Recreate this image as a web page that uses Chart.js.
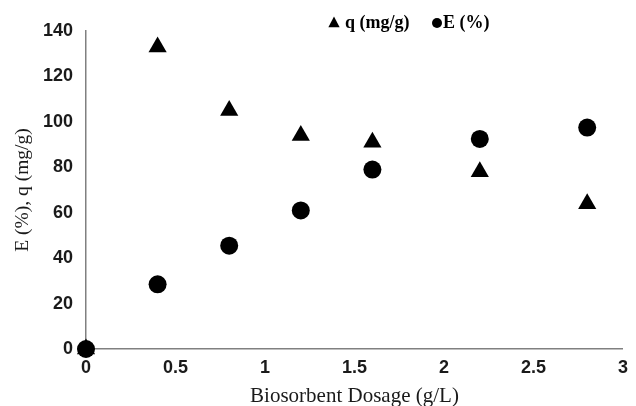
<!DOCTYPE html>
<html>
<head>
<meta charset="utf-8">
<script src="https://cdn.jsdelivr.net/npm/chart.js@4"></script>
<style>
  html, body { margin: 0; padding: 0; background: #fff; }
  #wrap { width: 636px; height: 406px; }
</style>
</head>
<body>
<div id="wrap"><canvas id="dosageChart" width="636" height="406"></canvas></div>
<script>
// Biosorbent dosage (g/L)
var dosage = [0, 0.4, 0.8, 1.2, 1.6, 2.2, 2.8];
// uptake q (mg/g)
var qValues = [0, 133, 105, 94, 91, 78, 64];
// removal efficiency E (%)
var eValues = [0, 28.5, 45.5, 61, 79, 92.5, 97.5];

var xTicks = [0, 0.5, 1, 1.5, 2, 2.5, 3];
var yTicks = [0, 20, 40, 60, 80, 100, 120, 140];

function toPoints(xs, ys) {
    var pts = [];
    for (var i = 0; i < xs.length; i++) {
        pts.push({ x: xs[i], y: ys[i] });
    }
    return pts;
}

// little legend drawn on top, same place as the original figure
var legendPlugin = {
    id: 'topLegend',
    afterDraw: function (chart) {
        var ctx = chart.ctx;
        ctx.save();
        ctx.fillStyle = '#000';
        ctx.font = 'bold 18px "Liberation Serif"';
        ctx.textBaseline = 'middle';
        // triangle
        var tx = 334, ty = 23, r = 6.5;
        ctx.beginPath();
        ctx.moveTo(tx, ty - r);
        ctx.lineTo(tx + r * 0.866, ty + r * 0.5 + 1);
        ctx.lineTo(tx - r * 0.866, ty + r * 0.5 + 1);
        ctx.closePath();
        ctx.fill();
        ctx.fillText(chart.data.datasets[0].label, 345, 23);
        // circle
        ctx.beginPath();
        ctx.arc(437, 23, 5, 0, Math.PI * 2);
        ctx.fill();
        ctx.fillText(chart.data.datasets[1].label, 443, 23);
        ctx.restore();
    }
};

var ctx = document.getElementById('dosageChart');
var config = {
    type: 'scatter',
    data: {
        datasets: [{
            label: 'q (mg/g)',
            data: toPoints(dosage, qValues),
            pointStyle: 'triangle',
            pointRadius: 10.5,
            backgroundColor: '#000',
            borderColor: '#000',
            borderWidth: 0,
            clip: false
        }, {
            label: 'E (%)',
            data: toPoints(dosage, eValues),
            pointStyle: 'circle',
            pointRadius: 9,
            backgroundColor: '#000',
            borderColor: '#000',
            borderWidth: 0,
            clip: false
        }]
    },
    options: {
        responsive: false,
        animation: false,
        layout: { padding: { top: 31, right: 7, left: 0, bottom: 0 } },
        plugins: {
            legend: { display: false },
            tooltip: { enabled: false }
        },
        scales: {
            x: {
                type: 'linear',
                min: 0,
                max: 3,
                afterBuildTicks: function (axis) {
                    axis.ticks = xTicks.map(function (v) { return { value: v }; });
                },
                ticks: {
                    font: { family: '"Liberation Sans"', size: 18, weight: 'bold' },
                    color: '#1a1a1a',
                    padding: 8,
                    callback: function (v) { return String(v); }
                },
                grid: { color: 'transparent', drawTicks: false },
                border: { display: true, color: '#808080', width: 1.5 },
                title: {
                    display: true,
                    text: 'Biosorbent Dosage (g/L)',
                    font: { family: '"Liberation Serif"', size: 21 },
                    color: '#1a1a1a',
                    padding: { top: 0, bottom: -3 }
                },
                afterFit: function (axis) { axis.height = 57; }
            },
            y: {
                min: 0,
                max: 140,
                afterBuildTicks: function (axis) {
                    axis.ticks = yTicks.map(function (v) { return { value: v }; });
                },
                ticks: {
                    font: { family: '"Liberation Sans"', size: 18, weight: 'bold' },
                    color: '#1a1a1a',
                    padding: 13
                },
                grid: { color: 'transparent', drawTicks: false },
                border: { display: true, color: '#808080', width: 1.5 },
                title: {
                    display: true,
                    text: 'E (%), q (mg/g)',
                    font: { family: '"Liberation Serif"', size: 19.5 },
                    color: '#1a1a1a',
                    padding: { top: 11, bottom: 0 }
                },
                afterFit: function (axis) { axis.width = 86; }
            }
        }
    },
    plugins: [legendPlugin]
};
window.myChart = new Chart(ctx, config);
</script>
</body>
</html>
